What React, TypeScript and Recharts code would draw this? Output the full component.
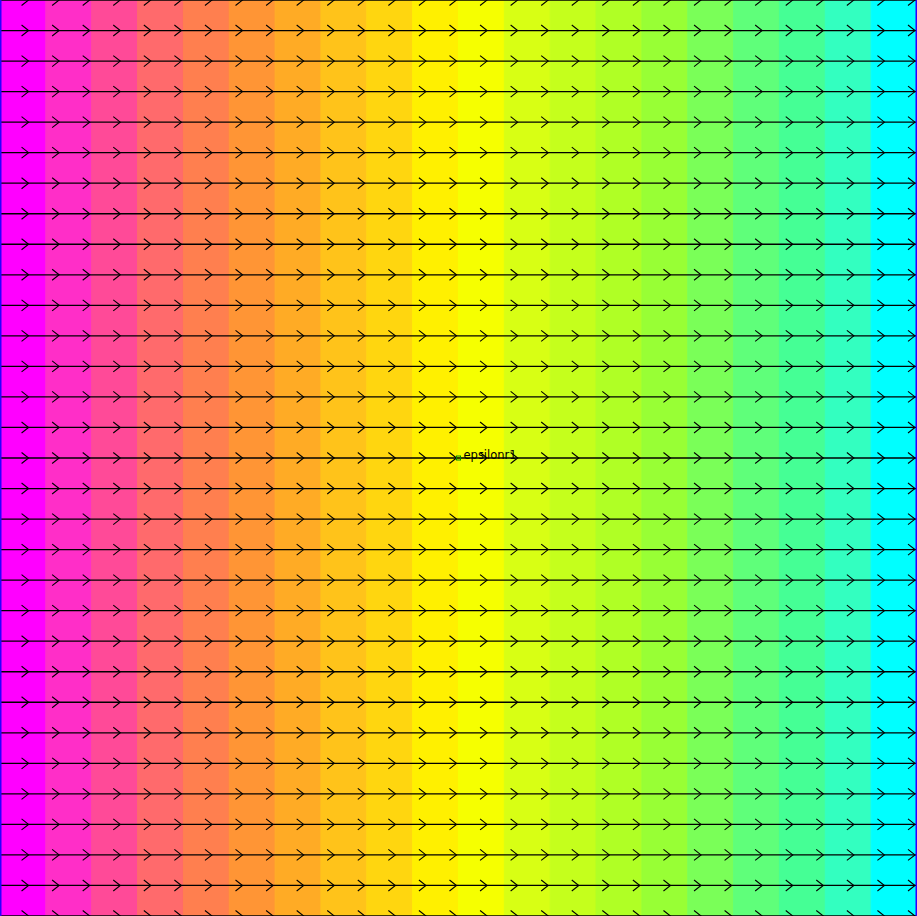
import { ComposedChart, XAxis, YAxis, Scatter, ReferenceArea, ReferenceLine, ReferenceDot } from 'recharts'

// colour bands of the surface plot, left to right
const BAND_COLORS = [
  '#ff00ff', '#ff2ec8', '#ff4a98', '#ff6a6c', '#ff7f4f',
  '#ff9535', '#ffab25', '#ffc31a', '#ffd60f', '#fff000',
  '#f6ff00', '#d8ff14', '#c5ff1c', '#b0ff25', '#98ff35',
  '#7aff58', '#5fff7a', '#45ff95', '#33ffc0', '#00ffff',
]

// streamline rows (y) and arrow stations (x)
const ROWS = [0, 1, 2, 3, 4, 5, 6, 7, 8, 9, 10, 11, 12, 13, 14, 15, 16, 17, 18, 19, 20, 21, 22, 23, 24, 25, 26, 27, 28, 29, 30]
const ARROW_X = [1, 2, 3, 4, 5, 6, 7, 8, 9, 10, 11, 12, 13, 14, 15, 16, 17, 18, 19, 20, 21, 22, 23, 24, 25, 26, 27, 28, 29, 30]

const LABEL = { x: 15, y: 15, text: 'epsilonr1' }

const X_MAX = 30
const Y_MAX = 30
const BAND_W = X_MAX / BAND_COLORS.length

const arrows = ROWS.flatMap((y) => ARROW_X.map((x) => ({ x, y })))

function Arrow(props: any) {
  const { cx, cy } = props
  if (cx == null || cy == null) return null
  const tx = cx - 2
  return (
    <path
      d={`M${tx - 7},${cy - 5.5} L${tx},${cy} L${tx - 7},${cy + 5.5}`}
      fill="none"
      stroke="#000"
      strokeWidth={1.1}
    />
  )
}

function Marker(props: any) {
  const { cx, cy } = props
  return (
    <g>
      <rect x={cx - 2} y={cy - 2} width={4} height={4} fill="none" stroke="#008a00" strokeWidth={1} />
      <text x={cx + 5} y={cy + 0.5} fontSize={11.5} fontFamily="DejaVu Sans" fill="#000">
        {LABEL.text}
      </text>
    </g>
  )
}

export default function App() {
  return (
    <div style={{ position: 'absolute', left: 0, top: 0 }}>
      <ComposedChart width={917} height={916} margin={{ top: 0, right: 0, bottom: 0, left: 0 }}>
        <XAxis type="number" dataKey="x" domain={[0, X_MAX]} hide allowDataOverflow />
        <YAxis type="number" dataKey="y" domain={[0, Y_MAX]} hide allowDataOverflow />
        {BAND_COLORS.map((c, i) => (
          <ReferenceArea
            key={c}
            x1={i * BAND_W}
            x2={(i + 1) * BAND_W}
            y1={0}
            y2={Y_MAX}
            fill={c}
            fillOpacity={1}
            stroke={c}
            strokeWidth={1}
          />
        ))}
        {ROWS.map((y) => (
          <ReferenceLine key={y} y={y} stroke="#000" strokeWidth={1.3} />
        ))}
        <ReferenceLine x={0} stroke="#2a00ff" strokeWidth={3} />
        <ReferenceLine x={X_MAX} stroke="#2a00ff" strokeWidth={3} />
        <Scatter data={arrows} dataKey="y" shape={<Arrow />} isAnimationActive={false} />
        <ReferenceDot x={LABEL.x} y={LABEL.y} r={2} shape={(p: any) => <Marker {...p} />} />
      </ComposedChart>
    </div>
  )
}
